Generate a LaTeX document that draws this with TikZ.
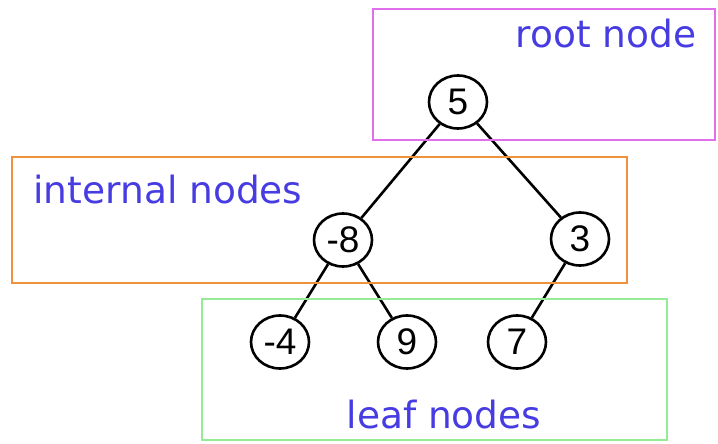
\documentclass[tikz,border=0pt]{standalone}
\usepackage{fontspec}
\setmainfont{Liberation Sans}
\newfontfamily\labelfont{DejaVu Sans}
\usetikzlibrary{shapes.geometric}
\definecolor{lblue}{RGB}{70,60,225}
\definecolor{rootc}{RGB}{225,110,235}
\definecolor{intc}{RGB}{240,145,60}
\definecolor{leafc}{RGB}{150,235,150}
\tikzset{
  tnode/.style={draw=black, line width=2.6pt, ellipse, inner sep=0pt,
    minimum width=58pt, minimum height=53pt,
    font=\fontsize{37}{40}\selectfont},
  tedge/.style={draw=black, line width=2.6pt},
  region/.style={line width=2.8pt},
  lbl/.style={anchor=base, text=lblue, inner sep=0pt,
    font=\labelfont\fontsize{37.5}{45}\selectfont}
}
\begin{document}
\begin{tikzpicture}[x=1pt,y=-1pt]
\useasboundingbox (0,0) rectangle (718,444);
% tree nodes
\node[tnode] (n5)  at (458,102) {5};
\node[tnode] (nm8) at (343,240) {-8};
\node[tnode] (n3)  at (580,239) {3};
\node[tnode] (nm4) at (280,342) {-4};
\node[tnode] (n9)  at (407,342) {9};
\node[tnode] (n7)  at (517,342) {7};
% edges
\draw[tedge] (n5) -- (nm8);
\draw[tedge] (n5) -- (n3);
\draw[tedge] (nm8) -- (nm4);
\draw[tedge] (nm8) -- (n9);
\draw[tedge] (n3) -- (n7);
% region boxes
\draw[region, draw=rootc] (373,9) rectangle (715,140);
\draw[region, draw=intc] (12,157) rectangle (627,283);
\draw[region, draw=leafc] (202,299) rectangle (667,440);
% labels
\node[lbl] (lroot) at (606,48) {root node};
\node[lbl] (lint) at (168,203) {internal nodes};
\node[lbl] (lleaf) at (444,428) {leaf nodes};
\end{tikzpicture}
\end{document}
